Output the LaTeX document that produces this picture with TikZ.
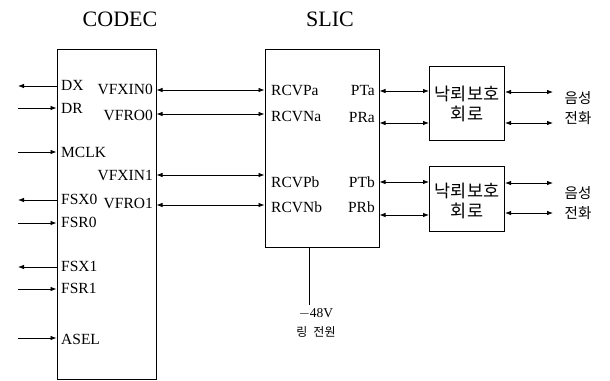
\documentclass[tikz,border=0pt]{standalone}
\usepackage{fontspec}
\setmainfont{Liberation Serif}
\newfontfamily\kr{Noto Sans CJK KR}
\usetikzlibrary{arrows.meta}
\begin{document}
\begin{tikzpicture}[x=1pt,y=-1pt,
  box/.style={draw,line width=1pt,inner sep=0pt},
  pin/.style={font=\fontsize{15.5}{15.5}\selectfont,inner sep=0pt},
  title/.style={font=\fontsize{22}{22}\selectfont,inner sep=0pt},
  con/.style={line width=0.8pt},
  tip/.tip={Latex[length=6pt,width=4.5pt]},
  ]
\useasboundingbox (0,0) rectangle (610,380);
% boxes
\node[box,minimum width=99pt,minimum height=330pt] (codec) at (106.5,214) {};
\node[box,minimum width=114pt,minimum height=198pt] (slic) at (322,148) {};
\node[box,minimum width=75pt,minimum height=74pt] (p1) at (467,103) {};
\node[box,minimum width=75pt,minimum height=65pt] (p2) at (467,198.5) {};
% titles
\node[title] (tcodec) at (120,19) {CODEC};
\node[title] (tslic) at (330,19) {SLIC};
% CODEC left pins
\foreach \n/\y in {dx/86,dr/108,mclk/152,fsxa/200,fsra/223,fsxb/267,fsrb/289,asel/338}
  \coordinate (\n) at (18,\y);
\draw[con,tip-] (dx) -- (codec.west |- dx);
\draw[con,-tip] (dr) -- (codec.west |- dr);
\draw[con,-tip] (mclk) -- (codec.west |- mclk);
\draw[con,tip-] (fsxa) -- (codec.west |- fsxa);
\draw[con,-tip] (fsra) -- (codec.west |- fsra);
\draw[con,tip-] (fsxb) -- (codec.west |- fsxb);
\draw[con,-tip] (fsrb) -- (codec.west |- fsrb);
\draw[con,-tip] (asel) -- (codec.west |- asel);
\node[pin,anchor=west] (ldx) at (61,85) {DX};
\node[pin,anchor=west] (ldr) at (61,108) {DR};
\node[pin,anchor=west] (lmclk) at (61,152) {MCLK};
\node[pin,anchor=west] (lfsxa) at (61,199) {FSX0};
\node[pin,anchor=west] (lfsra) at (61,222) {FSR0};
\node[pin,anchor=west] (lfsxb) at (61,266) {FSX1};
\node[pin,anchor=west] (lfsrb) at (61,288) {FSR1};
\node[pin,anchor=west] (lasel) at (61,339) {ASEL};
% CODEC right pins
\node[pin,anchor=east] (lvfxa) at (153,89) {VFXIN0};
\node[pin,anchor=east] (lvfra) at (153,115) {VFRO0};
\node[pin,anchor=east] (lvfxb) at (153,175) {VFXIN1};
\node[pin,anchor=east] (lvfrb) at (153,203) {VFRO1};
% SLIC left pins
\node[pin,anchor=west] (lrpa) at (271,90) {RCVPa};
\node[pin,anchor=west] (lrna) at (271,116) {RCVNa};
\node[pin,anchor=west] (lrpb) at (271,182) {RCVPb};
\node[pin,anchor=west] (lrnb) at (271,207) {RCVNb};
% SLIC right pins
\node[pin,anchor=east] (lpta) at (375,90) {PTa};
\node[pin,anchor=east] (lpra) at (375,117) {PRa};
\node[pin,anchor=east] (lptb) at (375,182) {PTb};
\node[pin,anchor=east] (lprb) at (375,207) {PRb};
% CODEC <-> SLIC
\foreach \y in {90,114,175,205}
  \draw[con,tip-tip] (codec.east |- 0,\y) -- (slic.west |- 0,\y);
% SLIC <-> protection
\draw[con,tip-tip] (slic.east |- 0,91) -- (p1.west |- 0,91);
\draw[con,tip-tip] (slic.east |- 0,123) -- (p1.west |- 0,123);
\draw[con,tip-tip] (slic.east |- 0,182) -- (p2.west |- 0,182);
\draw[con,tip-tip] (slic.east |- 0,215) -- (p2.west |- 0,215);
% protection -> phone
\foreach \n/\y in {ea/92,eb/123,ec/183,ed/213}
  \coordinate (\n) at (553,\y);
\draw[con,tip-tip] (p1.east |- ea) -- (ea);
\draw[con,tip-tip] (p1.east |- eb) -- (eb);
\draw[con,tip-tip] (p2.east |- ec) -- (ec);
\draw[con,tip-tip] (p2.east |- ed) -- (ed);
% box texts
\node[font=\kr\fontsize{17.5}{19.5}\selectfont,align=center,inner sep=0pt] (tp1) at (467,104) {낙뢰보호\\회로};
\node[font=\kr\fontsize{17.5}{19.5}\selectfont,align=center,inner sep=0pt] (tp2) at (467,201) {낙뢰보호\\회로};
\node[font=\kr\fontsize{14.5}{19.5}\selectfont,align=center,inner sep=0pt] (ph1) at (578,108) {음성\\전화};
\node[font=\kr\fontsize{14.5}{19.5}\selectfont,align=center,inner sep=0pt] (ph2) at (578,203) {음성\\전화};
% -48V
\coordinate (vend) at (309,305);
\draw[con] (vend) -- (slic.south -| vend);
\node[pin,font=\fontsize{13.5}{13.5}\selectfont] (v48) at (316,314) {$-$48V};
\node[font=\kr\fontsize{12}{12}\selectfont,inner sep=0pt] (ring) at (316,332) {링\hspace{0.5em}전원};
\end{tikzpicture}
\end{document}
